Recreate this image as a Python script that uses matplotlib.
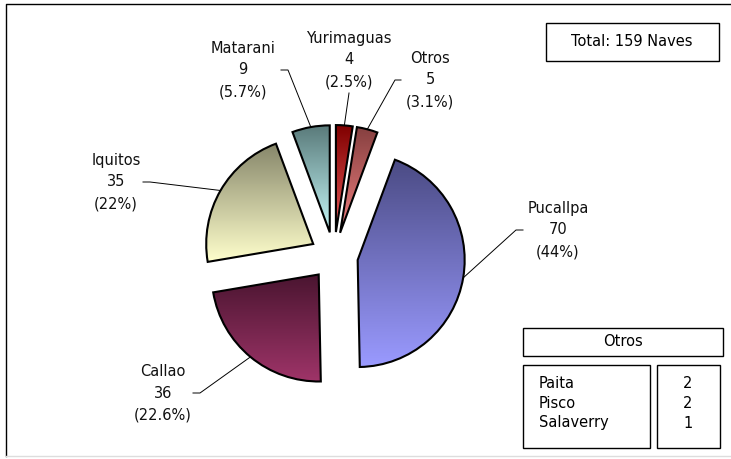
import numpy as np
import matplotlib
matplotlib.use('Agg')
import matplotlib.pyplot as plt
from matplotlib.patches import Rectangle
from matplotlib.colors import to_rgb

# datos de la grafica
puertos = ['Yurimaguas', 'Otros', 'Pucallpa', 'Callao', 'Iquitos', 'Matarani']
naves = [4, 5, 70, 36, 35, 9]
color_arriba = ['#800000', '#874040', '#4b4b84', '#4a1530', '#86866a', '#5a7a7a']
color_abajo = ['#e85a5a', '#f08080', '#9a9aff', '#9e3468', '#ffffcc', '#c4f8f8']

otros_puertos = ['Paita', 'Pisco', 'Salaverry']
otros_naves = [2, 2, 1]

# posiciones de etiquetas (pixeles, y hacia abajo) y codos de las lineas guia
etiqueta_pos = [(349, 60), (430, 80), (558, 230), (163, 393), (116, 182), (243, 70)]
codo_pos = [(349, 93), (395, 80), (516, 230), (200, 393), (150, 182), (288, 70)]
fin_pos = [(349, 93), (401, 80), (523, 230), (193, 393), (143, 182), (281, 70)]

W, H = 731, 459
fig = plt.figure(figsize=(W / 100, H / 100), dpi=100)
ax = fig.add_axes([0, 0, 1, 1])

def py(y):
    return H - y

centro = (334, py(256))
radio = 107
wedges, _ = ax.pie(naves, startangle=90, counterclock=False, radius=radio,
                   center=centro, explode=[24] * len(naves),
                   wedgeprops=dict(edgecolor='black', linewidth=1.5, facecolor='none'),
                   frame=True)

for i, w in enumerate(wedges):
    ext = w.get_path().get_extents()
    c1 = np.array(to_rgb(color_abajo[i]))
    c2 = np.array(to_rgb(color_arriba[i]))
    t = np.linspace(0, 1, 100)[:, None]
    grad = (c1 * (1 - t) + c2 * t)[:, None, :]
    im = ax.imshow(grad, extent=[ext.x0, ext.x1, ext.y0, ext.y1], origin='lower',
                   aspect='auto', interpolation='bilinear', zorder=1)
    im.set_clip_path(w)
    w.set_zorder(2)

total = sum(naves)
for i, w in enumerate(wedges):
    ang = np.deg2rad((w.theta1 + w.theta2) / 2)
    cx, cy = w.center
    x0 = cx + radio * np.cos(ang)
    y0 = cy + radio * np.sin(ang)
    ax.plot([x0, codo_pos[i][0], fin_pos[i][0]],
            [y0, py(codo_pos[i][1]), py(fin_pos[i][1])],
            color='black', lw=0.7, zorder=3)
    pct = f"{100 * naves[i] / total:.1f}"
    if pct.endswith('.0'):
        pct = pct[:-2]
    ax.text(etiqueta_pos[i][0], py(etiqueta_pos[i][1]),
            f"{puertos[i]}\n{naves[i]}\n({pct}%)",
            ha='center', va='center', fontsize=10.5, linespacing=1.55,
            color='#111111', zorder=4)

# cuadro del total
ax.add_patch(Rectangle((546, py(61)), 173, 38, fill=False, lw=1.0, ec='black'))
ax.text(632, py(42), f"Total: {total} Naves", ha='center', va='center', fontsize=10.5)

# cuadro de otros
ax.add_patch(Rectangle((523, py(356)), 200, 28, fill=False, lw=1.0, ec='black'))
ax.text(623, py(342), 'Otros', ha='center', va='center', fontsize=10.5)
ax.add_patch(Rectangle((523, py(448)), 127, 83, fill=False, lw=1.0, ec='black'))
ax.add_patch(Rectangle((657, py(448)), 63, 83, fill=False, lw=1.0, ec='black'))
for k, (nom, val) in enumerate(zip(otros_puertos, otros_naves)):
    yy = py(383 + 20 * k)
    ax.text(539, yy, nom, ha='left', va='center', fontsize=10.5)
    ax.text(688, yy, str(val), ha='center', va='center', fontsize=10.5)

# marco
ax.plot([5.5, 5.5, W], [py(456), py(3.5), py(3.5)], color='black', lw=1.0)
ax.plot([5.5, W], [py(456), py(456)], color='#dddddd', lw=1.0)

ax.set_xlim(0, W)
ax.set_ylim(0, H)
ax.set_aspect('equal')
ax.axis('off')

fig.savefig('out.png', dpi=100)
